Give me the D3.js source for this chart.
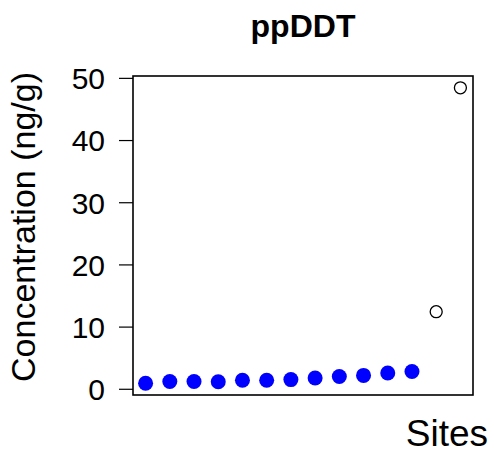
<!DOCTYPE html>
<html>
<head>
<meta charset="utf-8">
<script src="https://cdn.jsdelivr.net/npm/d3@7"></script>
<style>
  html, body { margin: 0; padding: 0; background: #fff; }
  svg { display: block; font-family: "Liberation Sans", Arial, sans-serif; }
</style>
</head>
<body>
<script>
// ---- data ----
const title = "ppDDT";
const yTitle = "Concentration (ng/g)";
const xTitle = "Sites";
const sites = [1, 2, 3, 4, 5, 6, 7, 8, 9, 10, 11, 12, 13, 14];
const values = [0.9, 1.18, 1.18, 1.13, 1.37, 1.37, 1.48, 1.73, 1.98, 2.15, 2.53, 2.79, 12.4, 48.4];
const outlier = [false, false, false, false, false, false, false, false, false, false, false, false, true, true];
const yTicks = [0, 10, 20, 30, 40, 50];

// ---- layout ----
const W = 494, H = 459;
const box = { left: 133, right: 473, top: 76, bottom: 395 };

const svg = d3.select("body").append("svg").attr("width", W).attr("height", H);

const ext = d3.extent(values);
const pad = (ext[1] - ext[0]) * 0.04;
const y = d3.scaleLinear().domain([ext[0] - pad, ext[1] + pad]).range([box.bottom, box.top]);
const x = d3.scaleLinear().domain([1 - 0.52, sites.length + 0.52]).range([box.left, box.right]);

// y axis
const yAxis = d3.axisLeft(y).tickValues(yTicks).tickSize(14).tickPadding(14).tickFormat(d3.format("d"));
const gy = svg.append("g").attr("transform", `translate(${box.left},0)`).call(yAxis);
gy.select(".domain").remove();
gy.selectAll(".tick line").attr("stroke", "#000").attr("stroke-width", 1.2);
gy.selectAll(".tick text").attr("fill", "#000").style("font-size", "30px").attr("dy", "0.36em");

// box
svg.append("rect")
  .attr("x", box.left).attr("y", box.top)
  .attr("width", box.right - box.left).attr("height", box.bottom - box.top)
  .attr("fill", "none").attr("stroke", "#000").attr("stroke-width", 1.6);

// points
const data = sites.map((s, i) => ({ s, v: values[i], o: outlier[i] }));
svg.append("g").selectAll("circle").data(data).enter().append("circle")
  .attr("cx", d => x(d.s)).attr("cy", d => y(d.v))
  .attr("r", d => d.o ? 6 : 7.5)
  .attr("fill", d => d.o ? "none" : "#0000ff")
  .attr("stroke", d => d.o ? "#000" : "none")
  .attr("stroke-width", 1.3);

// title
svg.append("text").attr("x", (box.left + box.right) / 2).attr("y", 37)
  .attr("text-anchor", "middle").style("font-size", "32px").style("font-weight", "bold")
  .text(title);

// y title
svg.append("text")
  .attr("transform", `translate(35,227) rotate(-90)`)
  .attr("text-anchor", "middle").style("font-size", "34px")
  .text(yTitle);

// x title
svg.append("text").attr("x", 488).attr("y", 446).attr("text-anchor", "end")
  .style("font-size", "37px").text(xTitle);
</script>
</body>
</html>
